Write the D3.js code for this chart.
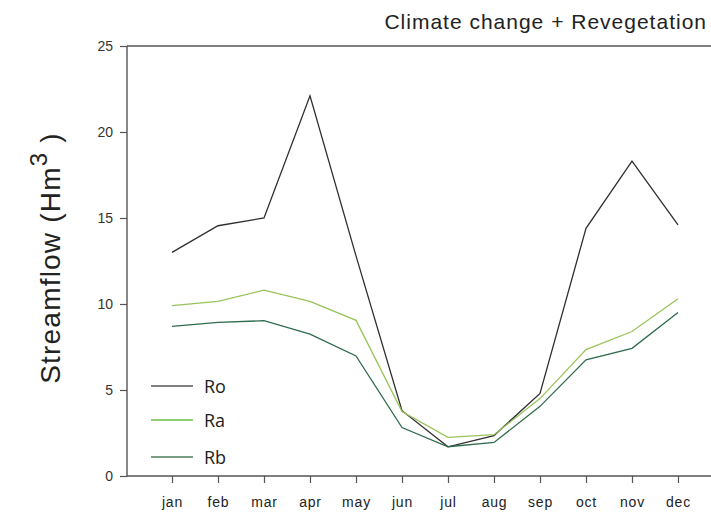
<!DOCTYPE html>
<html>
<head>
<meta charset="utf-8">
<script src="https://cdn.jsdelivr.net/npm/d3@7"></script>
<style>
  body { margin: 0; background: #fff; }
  svg { display: block; }
</style>
</head>
<body>
<svg id="chart"></svg>
<script>
// Monthly streamflow (Hm3)
const months = ["jan", "feb", "mar", "apr", "may", "jun", "jul", "aug", "sep", "oct", "nov", "dec"];
const ro = [13.0, 14.55, 15.0, 22.1, 12.8, 3.8, 1.7, 2.35, 4.8, 14.4, 18.3, 14.6];
const ra = [9.9, 10.15, 10.8, 10.15, 9.05, 3.75, 2.25, 2.4, 4.5, 7.35, 8.4, 10.3];
const rb = [8.7, 8.93, 9.03, 8.25, 6.98, 2.82, 1.7, 1.95, 4.05, 6.75, 7.42, 9.5];
const yTicks = [0, 5, 10, 15, 20, 25];

const seriesNames = ["Ro", "Ra", "Rb"];
const seriesValues = [ro, ra, rb];
const seriesColors = ["#2f2f2f", "#98c45a", "#2f6b4d"];
const legendColors = ["#555555", "#6cbf47", "#4d7d5c"];

const width = 711;
const height = 512;

const svg = d3.select("#chart")
  .attr("width", width)
  .attr("height", height);

// --- scales ---
const x = d3.scalePoint()
  .domain(months)
  .range([172, 678]);

const y = d3.scaleLinear()
  .domain([0, 25])
  .range([476, 46]);

const axisColor = "#555";

// --- frame: left axis, top line, bottom axis ---
svg.append("line")
  .attr("x1", 127).attr("x2", width)
  .attr("y1", y(25)).attr("y2", y(25))
  .attr("stroke", axisColor).attr("stroke-width", 1.4);

const yAxis = svg.append("g")
  .attr("transform", "translate(127,0)")
  .call(d3.axisLeft(y).tickValues(yTicks).tickSize(7).tickPadding(7));

yAxis.select(".domain").remove();
yAxis.append("line")
  .attr("x1", 0).attr("x2", 0)
  .attr("y1", y(25)).attr("y2", y(0) + 0.7)
  .attr("stroke", axisColor).attr("stroke-width", 1.4);

yAxis.selectAll(".tick line").attr("stroke", axisColor).attr("stroke-width", 1.2);
yAxis.selectAll(".tick text")
  .attr("fill", "#333")
  .style("font-family", "'Liberation Sans', Arial, sans-serif")
  .style("font-size", "14px");

const xAxis = svg.append("g")
  .attr("transform", `translate(0,${y(0)})`)
  .call(d3.axisBottom(x).tickSize(7).tickPadding(14));

xAxis.select(".domain").remove();
xAxis.append("line")
  .attr("x1", 127).attr("x2", width)
  .attr("y1", 0).attr("y2", 0)
  .attr("stroke", axisColor).attr("stroke-width", 1.4);

xAxis.selectAll(".tick line").attr("stroke", axisColor).attr("stroke-width", 1.2);
xAxis.selectAll(".tick text")
  .attr("fill", "#222")
  .style("font-family", "'Liberation Sans', Arial, sans-serif")
  .style("font-size", "14px")
  .style("letter-spacing", "0.8px");

// --- series lines ---
const line = d3.line()
  .x((d, i) => x(months[i]))
  .y(d => y(d));

seriesValues.forEach((vals, k) => {
  svg.append("path")
    .datum(vals)
    .attr("d", line)
    .attr("fill", "none")
    .attr("stroke", seriesColors[k])
    .attr("stroke-width", 1.3)
    .attr("stroke-linejoin", "miter");
});

// --- legend ---
const legendY = [386, 420, 457];
seriesNames.forEach((name, k) => {
  svg.append("line")
    .attr("x1", 151).attr("x2", 193)
    .attr("y1", legendY[k]).attr("y2", legendY[k])
    .attr("stroke", legendColors[k])
    .attr("stroke-width", 1.6);
  svg.append("text")
    .attr("x", 204)
    .attr("y", legendY[k] + 7)
    .attr("fill", "#222")
    .style("font-family", "'Open Sans', 'Liberation Sans', sans-serif")
    .style("font-size", "18px")
    .text(name);
});

// --- title ---
svg.append("text")
  .attr("x", 707)
  .attr("y", 29)
  .attr("text-anchor", "end")
  .attr("fill", "#222")
  .style("font-family", "'Liberation Sans', Arial, sans-serif")
  .style("font-size", "21px")
  .style("letter-spacing", "1px")
  .text("Climate change + Revegetation");

// --- y axis title with superscript ---
const yTitle = svg.append("text")
  .attr("transform", "translate(60,258) rotate(-90)")
  .attr("text-anchor", "middle")
  .attr("fill", "#222")
  .style("font-family", "'Liberation Sans', Arial, sans-serif")
  .style("font-size", "28px")
  .style("letter-spacing", "1.2px");

yTitle.append("tspan").text("Streamflow (Hm");
yTitle.append("tspan")
  .attr("dy", -13)
  .style("font-size", "24px")
  .text("3");
yTitle.append("tspan")
  .attr("dy", 13)
  .text(" )");
</script>
</body>
</html>
